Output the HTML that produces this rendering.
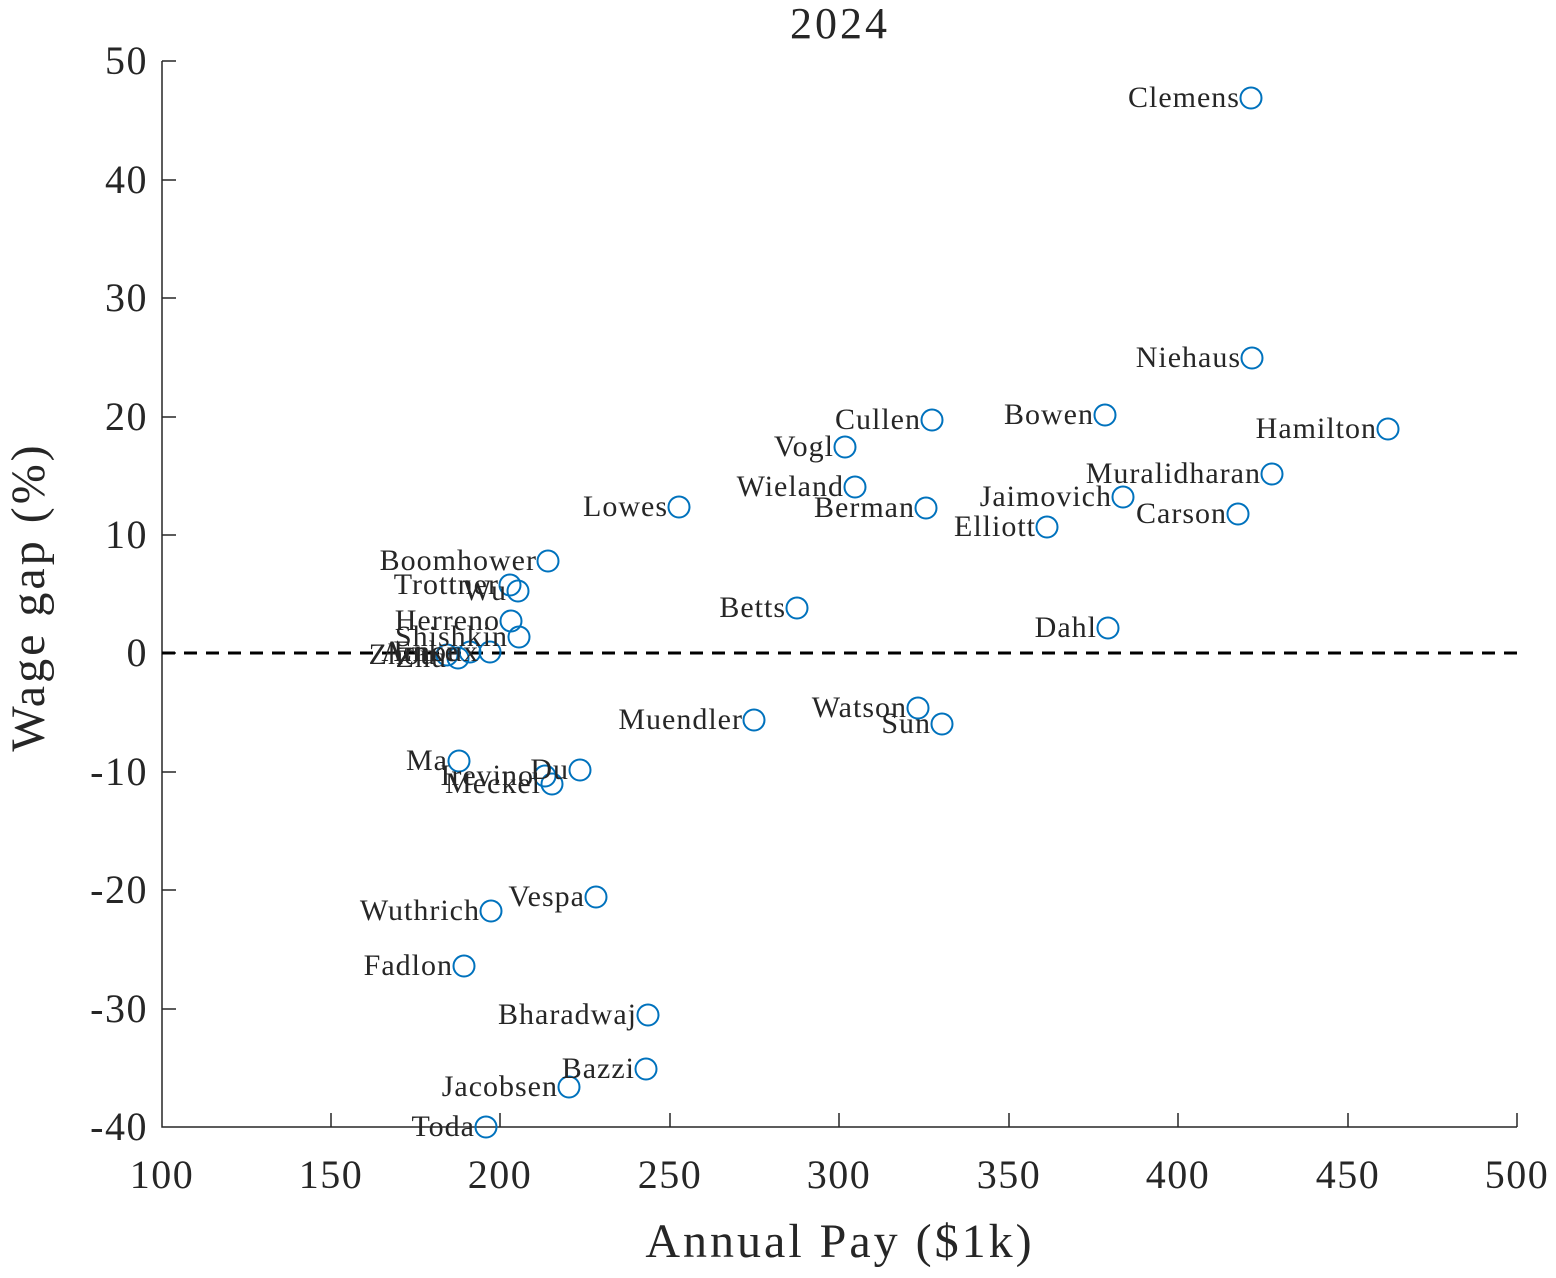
<!DOCTYPE html><html><head><style>body{margin:0;background:#fff}svg text{font-family:"Liberation Serif",serif;fill:#262626}</style></head><body>
<svg width="1556" height="1273" xmlns="http://www.w3.org/2000/svg">
<g stroke="#262626" stroke-width="1.5" fill="none">
<path d="M162,61 V1127 H1517"/>
<path d="M162,61h14M162,180h14M162,298h14M162,417h14M162,535h14M162,653h14M162,772h14M162,890h14M162,1009h14"/>
<path d="M331,1127v-14M500,1127v-14M670,1127v-14M839,1127v-14M1009,1127v-14M1178,1127v-14M1348,1127v-14M1517,1127v-14"/>
</g>
<line x1="162" y1="653" x2="1517" y2="653" stroke="#000" stroke-width="3" stroke-dasharray="13,9"/>
<g font-size="40" text-anchor="end" letter-spacing="1.5">
<text x="148" y="74">50</text><text x="148" y="193">40</text><text x="148" y="311">30</text><text x="148" y="430">20</text><text x="148" y="548">10</text><text x="148" y="666">0</text><text x="148" y="785">-10</text><text x="148" y="903">-20</text><text x="148" y="1022">-30</text><text x="148" y="1140">-40</text>
</g>
<g font-size="40" text-anchor="middle" letter-spacing="1.5">
<text x="162" y="1188">100</text><text x="331" y="1188">150</text><text x="500" y="1188">200</text><text x="670" y="1188">250</text><text x="839" y="1188">300</text><text x="1009" y="1188">350</text><text x="1178" y="1188">400</text><text x="1348" y="1188">450</text><text x="1517" y="1188">500</text>
<text x="840" y="1257" font-size="48" letter-spacing="3">Annual Pay ($1k)</text>
<text x="840" y="38" font-size="44" letter-spacing="3">2024</text>
<text transform="translate(44,597) rotate(-90)" font-size="48" letter-spacing="3">Wage gap (%)</text>
</g>
<g fill="none" stroke="#0072BD" stroke-width="2">
<circle cx="1251" cy="98" r="10.5"/><circle cx="1252" cy="358" r="10.5"/><circle cx="932" cy="420" r="10.5"/><circle cx="1105" cy="415" r="10.5"/><circle cx="1388" cy="429" r="10.5"/><circle cx="845" cy="447" r="10.5"/><circle cx="1272" cy="474" r="10.5"/><circle cx="855" cy="487" r="10.5"/><circle cx="1123" cy="497" r="10.5"/><circle cx="679" cy="507" r="10.5"/><circle cx="926" cy="508" r="10.5"/><circle cx="1238" cy="514" r="10.5"/><circle cx="1047" cy="527" r="10.5"/><circle cx="548" cy="561" r="10.5"/><circle cx="510" cy="585" r="10.5"/><circle cx="518" cy="591" r="10.5"/><circle cx="797" cy="608" r="10.5"/><circle cx="1108" cy="628" r="10.5"/><circle cx="511" cy="621" r="10.5"/><circle cx="519" cy="637" r="10.5"/><circle cx="490" cy="652" r="10.5"/><circle cx="470" cy="652" r="10.5"/><circle cx="458" cy="658" r="10.5"/><circle cx="447" cy="655" r="10.5"/><circle cx="754" cy="720" r="10.5"/><circle cx="918" cy="708" r="10.5"/><circle cx="942" cy="724" r="10.5"/><circle cx="459" cy="761" r="10.5"/><circle cx="580" cy="770" r="10.5"/><circle cx="545" cy="776" r="10.5"/><circle cx="552" cy="784" r="10.5"/><circle cx="596" cy="897" r="10.5"/><circle cx="491" cy="911" r="10.5"/><circle cx="464" cy="966" r="10.5"/><circle cx="648" cy="1015" r="10.5"/><circle cx="646" cy="1069" r="10.5"/><circle cx="569" cy="1087" r="10.5"/><circle cx="486" cy="1127" r="10.5"/>
</g>
<g font-size="30" text-anchor="end" letter-spacing="1" style="fill:#000">
<text x="1240" y="107">Clemens</text><text x="1241" y="367">Niehaus</text><text x="921" y="429">Cullen</text><text x="1094" y="424">Bowen</text><text x="1377" y="438">Hamilton</text><text x="834" y="456">Vogl</text><text x="1261" y="483">Muralidharan</text><text x="844" y="496">Wieland</text><text x="1112" y="506">Jaimovich</text><text x="668" y="516">Lowes</text><text x="915" y="517">Berman</text><text x="1227" y="523">Carson</text><text x="1036" y="536">Elliott</text><text x="537" y="570">Boomhower</text><text x="499" y="594">Trottner</text><text x="507" y="600">Wu</text><text x="786" y="617">Betts</text><text x="1097" y="637">Dahl</text><text x="500" y="630">Herreno</text><text x="508" y="646">Shishkin</text><text x="479" y="661">Arnoux</text><text x="459" y="661">Enke</text><text x="447" y="667">Zhu</text><text x="436" y="664">Zhou</text><text x="743" y="729">Muendler</text><text x="907" y="717">Watson</text><text x="931" y="733">Sun</text><text x="448" y="770">Ma</text><text x="569" y="779">Du</text><text x="534" y="785">Irevino</text><text x="541" y="793">Meckel</text><text x="585" y="906">Vespa</text><text x="480" y="920">Wuthrich</text><text x="453" y="975">Fadlon</text><text x="637" y="1024">Bharadwaj</text><text x="635" y="1078">Bazzi</text><text x="558" y="1096">Jacobsen</text><text x="475" y="1136">Toda</text>
</g>
</svg></body></html>
